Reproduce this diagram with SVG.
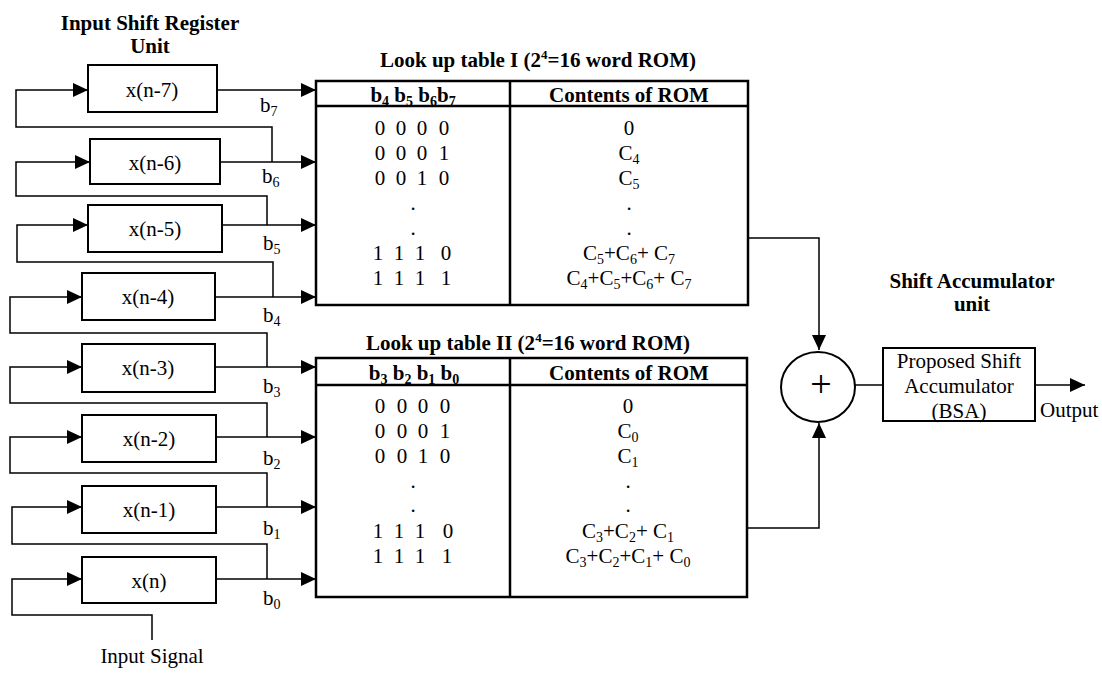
<svg xmlns="http://www.w3.org/2000/svg" width="1102" height="673" viewBox="0 0 1102 673">
<style>
  text { font-family: "Liberation Serif", "Times New Roman", serif; font-size: 21px; fill: #000; }
  .b { font-weight: bold; }
  .m { text-anchor: middle; }
  .sub { font-size: 14px; }
  .box { fill: #fff; stroke: #000; stroke-width: 2; }
  .tbl { fill: #fff; stroke: #000; stroke-width: 2.5; }
  .tl { stroke: #000; stroke-width: 2.5; fill: none; }
  .wire { fill: none; stroke: #000; stroke-width: 1.5; }
  .arr { fill: none; stroke: #000; stroke-width: 1.5; marker-end: url(#ah); }
</style>
<defs>
  <marker id="ah" markerUnits="userSpaceOnUse" markerWidth="16" markerHeight="14" refX="15" refY="7" orient="auto">
    <path d="M0,0 L15,7 L0,14 z" fill="#000"/>
  </marker>
</defs>
<rect width="1102" height="673" fill="#fff"/>

<g id="titles">
  <text class="b m" x="150" y="30">Input Shift Register</text>
  <text class="b m" x="150" y="53">Unit</text>
  <text class="b m" x="538" y="67">Look up table I (2<tspan font-size="13" dy="-8">4</tspan><tspan dy="8">=16 word ROM)</tspan></text>
  <text class="b m" x="528" y="350">Look up table II (2<tspan font-size="13" dy="-8">4</tspan><tspan dy="8">=16 word ROM)</tspan></text>
  <text class="b m" x="972" y="288">Shift Accumulator</text>
  <text class="b m" x="972" y="311">unit</text>
</g>

<g id="connectors">
  <!-- inputs into registers (feedback loops) -->
  <path class="arr" d="M272,162 V127 H16 V90 H88"/>
  <path class="arr" d="M267,225 V196 H16 V162 H90"/>
  <path class="arr" d="M273,297 V262 H17 V225 H88"/>
  <path class="arr" d="M267,367 V333 H10 V297 H82"/>
  <path class="arr" d="M267,437 V403 H10 V367 H82"/>
  <path class="arr" d="M267,507 V473 H10 V437 H82"/>
  <path class="arr" d="M267,579 V544 H12 V507 H82"/>
  <path class="arr" d="M152,640 V615 H12 V579 H82"/>
  <!-- register outputs to tables -->
  <path class="arr" d="M217,90 H316"/>
  <path class="arr" d="M220,162 H316"/>
  <path class="arr" d="M222,225 H316"/>
  <path class="arr" d="M215,297 H316"/>
  <path class="arr" d="M215,367 H316"/>
  <path class="arr" d="M216,437 H316"/>
  <path class="arr" d="M216,507 H316"/>
  <path class="arr" d="M216,579 H316"/>
  <!-- tables to adder -->
  <path class="arr" d="M748,238 H819 V350"/>
  <path class="arr" d="M747,528 H819 V423"/>
  <!-- adder to accumulator -->
  <path class="wire" d="M855,385 H883"/>
  <path class="arr" d="M1035,385 H1085"/>
</g>

<g id="bit-labels">
  <text x="260" y="112">b<tspan class="sub" dy="4">7</tspan></text>
  <text x="262" y="183">b<tspan class="sub" dy="4">6</tspan></text>
  <text x="263" y="250">b<tspan class="sub" dy="4">5</tspan></text>
  <text x="263" y="322">b<tspan class="sub" dy="4">4</tspan></text>
  <text x="263" y="393">b<tspan class="sub" dy="4">3</tspan></text>
  <text x="263" y="465">b<tspan class="sub" dy="4">2</tspan></text>
  <text x="263" y="535">b<tspan class="sub" dy="4">1</tspan></text>
  <text x="263" y="605">b<tspan class="sub" dy="4">0</tspan></text>
</g>

<g id="reg-x7"><rect class="box" x="88" y="65" width="129" height="47"/><text class="m" x="152" y="97">x(n-7)</text></g>
<g id="reg-x6"><rect class="box" x="90" y="139" width="130" height="45"/><text class="m" x="155" y="170">x(n-6)</text></g>
<g id="reg-x5"><rect class="box" x="88" y="205" width="134" height="47"/><text class="m" x="155" y="236">x(n-5)</text></g>
<g id="reg-x4"><rect class="box" x="82" y="273" width="133" height="47"/><text class="m" x="148" y="304">x(n-4)</text></g>
<g id="reg-x3"><rect class="box" x="82" y="344" width="133" height="48"/><text class="m" x="148" y="375">x(n-3)</text></g>
<g id="reg-x2"><rect class="box" x="82" y="415" width="134" height="47"/><text class="m" x="149" y="446">x(n-2)</text></g>
<g id="reg-x1"><rect class="box" x="82" y="486" width="134" height="47"/><text class="m" x="149" y="517">x(n-1)</text></g>
<g id="reg-x0"><rect class="box" x="82" y="557" width="134" height="46"/><text class="m" x="149" y="588">x(n)</text></g>

<g id="input-signal"><text class="m" x="152" y="663">Input Signal</text></g>

<g id="lut1">
  <rect class="tbl" x="316" y="81" width="432" height="224"/>
  <line class="tl" x1="316" y1="106" x2="748" y2="106"/>
  <line class="tl" x1="510" y1="81" x2="510" y2="305"/>
  <text class="b m" x="413" y="102">b<tspan class="sub" dy="4">4</tspan><tspan dy="-4"> b</tspan><tspan class="sub" dy="4">5</tspan><tspan dy="-4"> b</tspan><tspan class="sub" dy="4">6</tspan><tspan dy="-4">b</tspan><tspan class="sub" dy="4">7</tspan></text>
  <text class="b m" x="629" y="102">Contents of ROM</text>
  <text class="m" x="380 401 422 444" y="135">0000</text>
  <text class="m" x="380 401 422 444" y="160">0001</text>
  <text class="m" x="380 401 422 444" y="185">0010</text>
  <text class="m" x="413" y="210">.</text>
  <text class="m" x="413" y="235">.</text>
  <text class="m" x="378 399 420 446" y="260">1110</text>
  <text class="m" x="378 399 420 446" y="285">1111</text>
  <text class="m" x="629" y="135">0</text>
  <text class="m" x="629" y="160">C<tspan class="sub" dy="4">4</tspan></text>
  <text class="m" x="629" y="185">C<tspan class="sub" dy="4">5</tspan></text>
  <text class="m" x="629" y="210">.</text>
  <text class="m" x="629" y="235">.</text>
  <text class="m" x="629" y="260">C<tspan class="sub" dy="4">5</tspan><tspan dy="-4">+C</tspan><tspan class="sub" dy="4">6</tspan><tspan dy="-4">+ C</tspan><tspan class="sub" dy="4">7</tspan></text>
  <text class="m" x="629" y="285">C<tspan class="sub" dy="4">4</tspan><tspan dy="-4">+C</tspan><tspan class="sub" dy="4">5</tspan><tspan dy="-4">+C</tspan><tspan class="sub" dy="4">6</tspan><tspan dy="-4">+ C</tspan><tspan class="sub" dy="4">7</tspan></text>
</g>

<g id="lut2">
  <rect class="tbl" x="316" y="358" width="431" height="239"/>
  <line class="tl" x1="316" y1="385" x2="747" y2="385"/>
  <line class="tl" x1="510" y1="358" x2="510" y2="597"/>
  <text class="b m" x="414" y="380">b<tspan class="sub" dy="4">3</tspan><tspan dy="-4"> b</tspan><tspan class="sub" dy="4">2</tspan><tspan dy="-4"> b</tspan><tspan class="sub" dy="4">1</tspan><tspan dy="-4"> b</tspan><tspan class="sub" dy="4">0</tspan></text>
  <text class="b m" x="629" y="380">Contents of ROM</text>
  <text class="m" x="380 402 423 445" y="413">0000</text>
  <text class="m" x="380 402 423 445" y="438">0001</text>
  <text class="m" x="380 402 423 445" y="463">0010</text>
  <text class="m" x="413" y="488">.</text>
  <text class="m" x="413" y="512">.</text>
  <text class="m" x="378 399 420 448" y="538">1110</text>
  <text class="m" x="378 399 420 447" y="563">1111</text>
  <text class="m" x="628" y="413">0</text>
  <text class="m" x="628" y="438">C<tspan class="sub" dy="4">0</tspan></text>
  <text class="m" x="628" y="463">C<tspan class="sub" dy="4">1</tspan></text>
  <text class="m" x="628" y="488">.</text>
  <text class="m" x="628" y="512">.</text>
  <text class="m" x="628" y="538">C<tspan class="sub" dy="4">3</tspan><tspan dy="-4">+C</tspan><tspan class="sub" dy="4">2</tspan><tspan dy="-4">+ C</tspan><tspan class="sub" dy="4">1</tspan></text>
  <text class="m" x="628" y="563">C<tspan class="sub" dy="4">3</tspan><tspan dy="-4">+C</tspan><tspan class="sub" dy="4">2</tspan><tspan dy="-4">+C</tspan><tspan class="sub" dy="4">1</tspan><tspan dy="-4">+ C</tspan><tspan class="sub" dy="4">0</tspan></text>
</g>

<g id="adder">
  <ellipse cx="818" cy="387" rx="37" ry="35" fill="#fff" stroke="#000" stroke-width="2"/>
  <text class="m" x="821" y="397" style="font-size:38px">+</text>
</g>

<g id="bsa">
  <rect class="box" x="883" y="348" width="152" height="73"/>
  <text class="m" x="959" y="368">Proposed Shift</text>
  <text class="m" x="959" y="393">Accumulator</text>
  <text class="m" x="959" y="418">(BSA)</text>
</g>

<g id="output"><text x="1040" y="417">Output</text></g>
</svg>
